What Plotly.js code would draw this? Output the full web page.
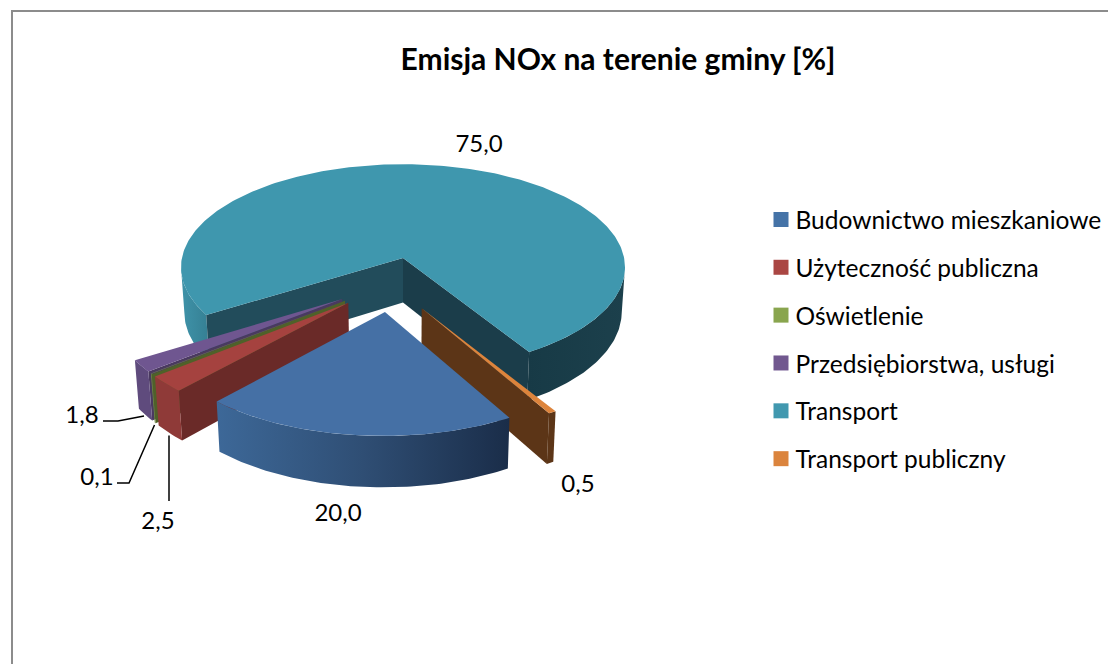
<!DOCTYPE html>
<html><head><meta charset="utf-8">
<script src="https://cdn.plot.ly/plotly-3.0.1.min.js"></script>
<style>html,body{margin:0;padding:0;background:#fff;overflow:hidden}#c{width:1108px;height:664px}</style>
</head><body><div id="c"></div>
<script>
// DATA
const categories = ["Budownictwo mieszkaniowe","Użyteczność publiczna","Oświetlenie","Przedsiębiorstwa, usługi","Transport","Transport publiczny"];
const values = [20.0,2.5,0.1,1.8,75.0,0.5];
const legendColors = ["#4573A7","#AA4643","#89A54E","#71588F","#4198AF","#DB843D"];
const titleText = "Emisja NOx na terenie gminy [%]";

// STYLE / GEOMETRY
const topColors  = ["#4570A5","#A5423F","#7F9A48","#6F5690","#3F97AE","#DD843C"];
const firstAngle = 60, k = 0.09, Sx = 221.1, Sy = 102.2, cx = 403, apexY = 258, depth = 44.5;
const explodeX = [-0.078,-0.238,-0.2528,-0.265,0,0.081];
const explodeZ = [0.505,0.4208,0.4027,0.3872,0,0.4712];
const labelX = [338,158,97,82,479,578];
const labelY = [515,523,479,417,146,486];
const FONT = "Lato, Carlito, Calibri, sans-serif";

const rad = d => d*Math.PI/180;
function proj(X,Z,h){
  const w = 1-k*Z;
  return [cx + Sx*(X/w)*(1-0.015*h), apexY + Sy*(Z/w) + h*depth/w];
}
const total = values.reduce((a,b)=>a+b,0);
let acc = firstAngle;
const spans = values.map(v=>{const a=acc; acc+=v/total*360; return [a,acc];});
function rimPt(i,t,h,r=1){return proj(explodeX[i]+r*Math.cos(rad(t)),explodeZ[i]+r*Math.sin(rad(t)),h);}
function arc(i,a,b,h){const n=Math.max(2,Math.ceil(Math.abs(b-a)));const o=[];for(let j=0;j<=n;j++)o.push(rimPt(i,a+(b-a)*j/n,h));return o;}
const traces = [];
function poly(pts,color,grad){
  const t={x:pts.map(p=>p[0]).concat(pts[0][0]),y:pts.map(p=>p[1]).concat(pts[0][1]),mode:'lines',fill:'toself',
    fillcolor:color,line:{width:0,color:color},hoverinfo:'skip',showlegend:false,type:'scatter'};
  if(grad){t.fillgradient={type:'horizontal',colorscale:grad};}
  traces.push(t);
}
function topFace(i){const a=spans[i];poly([rimPt(i,0,0,0)].concat(arc(i,a[0],a[1],0)),topColors[i]);}
function cut(i,t,color){poly([rimPt(i,0,0,0),rimPt(i,t,0),rimPt(i,t,1),rimPt(i,0,1,0)],color);}
function rim(i,a,b,color,grad){poly(arc(i,a,b,0).concat(arc(i,b,a,1)),color,grad);}

// Transport (index 4), the back piece; the rim ends on the silhouette of the disc
const T=4, ts=spans[T], edge=Math.asin(k)*180/Math.PI;
rim(T,ts[0],180-edge,"#3C8DA3",[[0,"#3f93a9"],[1,"#357f93"]]);
rim(T,edge,ts[1]-360,"#1B3D4A",[[0,"#173a46"],[1,"#1c404c"]]);
cut(T,ts[0],"#224C5B");
cut(T,ts[1],"#1B3D4A");
topFace(T);
// Transport publiczny
cut(5,spans[5][1],"#5C3517");
rim(5,spans[5][0],spans[5][1],"#5C3517");
topFace(5);
// Przedsiębiorstwa
cut(3,spans[3][0],"#4A3960");
rim(3,spans[3][0],spans[3][1],"#5F4B7D");
topFace(3);
// Oświetlenie
cut(2,spans[2][0],"#4f6129");
rim(2,spans[2][0],spans[2][1],"#6f8a3c");
topFace(2);
// Użyteczność
cut(1,spans[1][0],"#6A2A28");
rim(1,spans[1][0],spans[1][1],"#8F3A38");
topFace(1);
// Budownictwo
rim(0,spans[0][0],spans[0][1],"#2c4a6e",[[0,"#3d6898"],[0.5,"#2f4e74"],[1,"#1a2d49"]]);
topFace(0);

// Leader lines
const leaders = [[[103,118,144],[421,421,416]],[[117,129,154.5],[483,483,425]],[[169,169],[435.5,501]]];
leaders.forEach(l=>traces.push({x:l[0],y:l[1],mode:'lines',line:{color:'#000',width:1.5},hoverinfo:'skip',showlegend:false,type:'scatter'}));

// Data labels
traces.push({x:labelX,y:labelY,mode:'text',text:values.map(v=>v.toFixed(1).replace('.',',')),
  textposition:'middle center',textfont:{family:FONT,size:24,color:'#000'},hoverinfo:'skip',showlegend:false,type:'scatter'});

// Legend entries
categories.forEach((c,i)=>traces.push({x:[null],y:[null],name:c,legendgroup:'g'+i,mode:'markers',type:'scatter',
  marker:{symbol:'square',size:15,color:legendColors[i]},hoverinfo:'skip'}));

const layout={
  width:1108,height:664,autosize:false,margin:{l:0,r:0,t:0,b:0},paper_bgcolor:'#fff',plot_bgcolor:'#fff',
  title:{text:'<b>'+titleText+'</b>',x:618/1108,xanchor:'center',y:1-59/664,yanchor:'middle',xref:'paper',yref:'paper',
    font:{family:FONT,size:30,color:'#000'}},
  xaxis:{range:[0,1108],visible:false,fixedrange:true},
  yaxis:{range:[664,0],visible:false,fixedrange:true},
  showlegend:true,
  legend:{x:755.5/1108,xanchor:'left',y:1-197/664,yanchor:'top',font:{family:FONT,size:24.5,color:'#000'},tracegroupgap:13,
    bgcolor:'rgba(0,0,0,0)',itemclick:false,itemdoubleclick:false},
  shapes:[{type:'path',path:'M 12 664 L 12 11 L 1108 11',xref:'x',yref:'y',line:{color:'#8C8C8C',width:2}}]
};
Plotly.newPlot('c',traces,layout,{displayModeBar:false}).then(()=>{
  document.querySelectorAll('#c .legend .legendsymbols').forEach(n=>n.setAttribute('transform','translate(5.5,0)'));
});
</script></body></html>
